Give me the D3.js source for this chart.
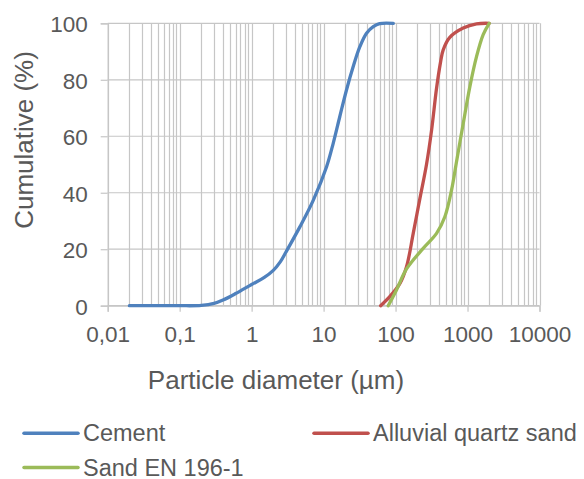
<!DOCTYPE html>
<html>
<head>
<meta charset="utf-8">
<script src="https://cdn.jsdelivr.net/npm/d3@7"></script>
<style>
  body { margin: 0; background: #fff; }
  svg text { font-family: "Liberation Sans", Arial, sans-serif; fill: #595959; }
</style>
</head>
<body>
<svg width="584" height="479"></svg>
<script>
// particle size distributions (cumulative %)
var cementSize = [0.02, 0.05, 0.1, 0.2, 0.3, 0.4, 0.6, 1, 1.5, 2, 2.5, 3, 4.7, 7.2, 11, 13.6, 16.8, 20.8, 25.8, 32, 39.5, 49, 60, 93];
var cementCum  = [0, 0, 0, 0.1, 0.8, 2, 4.3, 7.5, 10, 12.5, 15.5, 19, 28, 37.4, 49.2, 57.5, 67, 76.4, 84.7, 91.8, 96.5, 98.8, 99.9, 100];

var quartzSize = [62, 83, 115, 142, 176, 218, 269, 316, 371, 420, 458, 567, 871, 1333, 2000];
var quartzCum  = [0, 3.2, 7.9, 13.8, 25.6, 38, 50, 62, 77, 86, 90.5, 95, 98.3, 99.8, 100];

var sandSize = [79, 103, 142, 242, 371, 484, 600, 703, 871, 1078, 1333, 1650, 2000];
var sandCum  = [0, 5.6, 13, 20.3, 25.6, 31.5, 41, 51, 64.5, 77.6, 88.2, 96, 100];

var xTicks = [0.01, 0.1, 1, 10, 100, 1000, 10000];
var xTickLabels = ["0,01", "0,1", "1", "10", "100", "1000", "10000"];
var yTicks = [0, 20, 40, 60, 80, 100];

var seriesNames = ["Cement", "Alluvial quartz sand", "Sand EN 196-1"];
var seriesColors = ["#4f81bd", "#c0504d", "#9bbb59"];

var svg = d3.select("svg");
var padLeft = 107.7, padRight = 539.5, padTop = 23.3, padBottom = 305.7;
var gridColor = "#c6c6c6";

var x = d3.scaleLog().domain([0.01, 10000]).range([padLeft, padRight]);
var y = d3.scaleLinear().domain([0, 100]).range([padBottom, padTop]);

// minor vertical grid (2..9 per decade plus decades)
var minor = [];
for (var k = -2; k < 4; k++)
  for (var m = 1; m < 10; m++) minor.push(m * Math.pow(10, k));
minor.push(10000);

var grid = svg.append("g").attr("class", "grid");
grid.selectAll("line.v")
  .data(minor)
  .enter().append("line")
  .attr("class", "v")
  .attr("x1", function(d) { return Math.round(x(d)) + 0.5; })
  .attr("x2", function(d) { return Math.round(x(d)) + 0.5; })
  .attr("y1", y(0))
  .attr("y2", y(100))
  .attr("stroke", gridColor)
  .attr("stroke-width", 1.2);

grid.selectAll("line.h")
  .data(yTicks)
  .enter().append("line")
  .attr("class", "h")
  .attr("x1", padLeft)
  .attr("x2", padRight)
  .attr("y1", function(d) { return y(d); })
  .attr("y2", function(d) { return y(d); })
  .attr("stroke", gridColor)
  .attr("stroke-width", 1.2);

// axes
var xAxis = d3.axisBottom(x)
  .tickValues(xTicks)
  .tickSize(6)
  .tickPadding(14)
  .tickFormat(function(d, i) { return xTickLabels[i]; });

var gx = svg.append("g")
  .attr("transform", "translate(0," + y(0) + ")")
  .call(xAxis);
gx.select(".domain").attr("stroke", gridColor).attr("stroke-width", 1.2);
gx.selectAll(".tick line").attr("stroke", gridColor).attr("stroke-width", 1.2);
gx.selectAll(".tick text")
  .attr("font-size", "22.5px")
  .attr("dy", "0.71em")
  .style("font-family", "Liberation Sans, Arial, sans-serif")
  .attr("fill", "#595959");

var yAxis = d3.axisLeft(y)
  .tickValues(yTicks)
  .tickSize(7)
  .tickPadding(13)
  .tickFormat(d3.format("d"));

var gy = svg.append("g")
  .attr("transform", "translate(" + padLeft + ",0)")
  .call(yAxis);
gy.select(".domain").attr("stroke", gridColor).attr("stroke-width", 1.2);
gy.selectAll(".tick line").attr("stroke", gridColor).attr("stroke-width", 1.2);
gy.selectAll(".tick text")
  .attr("font-size", "22.5px")
  .attr("dy", "0.38em")
  .style("font-family", "Liberation Sans, Arial, sans-serif")
  .attr("fill", "#595959");

// axis titles
svg.append("text")
  .attr("x", 276)
  .attr("y", 389)
  .attr("text-anchor", "middle")
  .attr("font-size", "26px")
  .text("Particle diameter (µm)");

svg.append("text")
  .attr("transform", "translate(33,140) rotate(-90)")
  .attr("text-anchor", "middle")
  .attr("font-size", "26px")
  .text("Cumulative (%)");

// curves (smoothed like the spreadsheet lines)
var line = d3.line()
  .x(function(d) { return x(d[0]); })
  .y(function(d) { return y(d[1]); })
  .curve(d3.curveCatmullRom.alpha(0.5));

var series = [
  d3.zip(cementSize, cementCum),
  d3.zip(quartzSize, quartzCum),
  d3.zip(sandSize, sandCum)
];

series.forEach(function(s, i) {
  svg.append("path")
    .attr("d", line(s))
    .attr("fill", "none")
    .attr("stroke", seriesColors[i])
    .attr("stroke-width", 3.3)
    .attr("stroke-linecap", "round")
    .attr("stroke-linejoin", "round");
});

// legend
var legendPos = [[24, 433.3], [314, 433.3], [24, 467.5]];
seriesNames.forEach(function(name, i) {
  var g = svg.append("g")
    .attr("transform", "translate(" + legendPos[i] + ")");
  g.append("line")
    .attr("x1", 0).attr("x2", 54)
    .attr("y1", 0).attr("y2", 0)
    .attr("stroke", seriesColors[i])
    .attr("stroke-width", 3.5)
    .attr("stroke-linecap", "round");
  g.append("text")
    .attr("x", 59)
    .attr("y", 8)
    .attr("font-size", "23.5px")
    .text(name);
});
</script>
</body>
</html>
